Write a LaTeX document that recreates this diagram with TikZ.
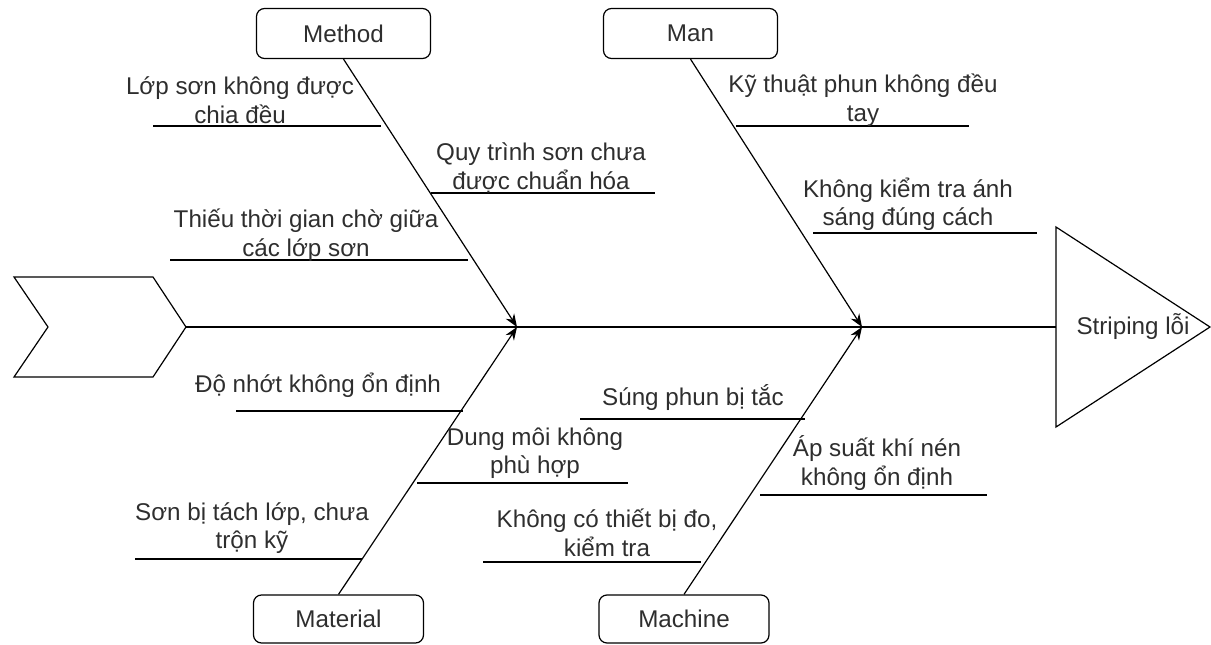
\documentclass[tikz,border=0pt]{standalone}
\usepackage{fontspec}
\setmainfont{Liberation Sans}
\usetikzlibrary{arrows.meta}
\definecolor{ink}{HTML}{2E2E2E}
\begin{document}
\begin{tikzpicture}[x=1pt,y=-1pt,
  every node/.style={font=\fontsize{24.2}{28.5}\selectfont, text=ink},
  catbox/.style={draw=black, line width=1.2pt, rounded corners=8pt,
    minimum width=174pt, minimum height=50pt, inner sep=0pt},
  bone/.style={line width=1.2pt, -{Stealth[length=13pt,width=10pt]}},
  rib/.style={line width=1.2pt},
  cause/.style={align=center, inner sep=0pt}]
\useasboundingbox (0,0) rectangle (1211,645);

% head (effect) and tail of the fish
\draw[line width=1.2pt] (14,277) -- (153,277) -- (186,327) -- (153,377) -- (14,377) -- (48,327) -- cycle;
\coordinate (tail) at (186,327);
\draw[line width=1.2pt] (1056,227) -- (1210,327) -- (1056,427) -- cycle;
\coordinate (headbase) at (1056,327);
\node (effect) at (1133,327) {Striping lỗi};

% spine
\draw[line width=1.2pt] (tail) -- (headbase);
\coordinate (j1) at (517,327);
\coordinate (j2) at (862,327);

% category boxes
\node[catbox] (method)   at (343.5,33.5) {Method};
\node[catbox] (man)      at (690.5,33.5) {Man};
\node[catbox, minimum width=170pt, minimum height=48pt] (material) at (338.5,619) {Material};
\node[catbox, minimum width=170pt, minimum height=48pt] (machine)  at (684,619) {Machine};

% main bones
\draw[bone] (method.south) -- (j1);
\draw[bone] (material.north) -- (j1);
\draw[bone] (man.south) -- (j2);
\draw[bone] (machine.north) -- (j2);

% Method causes
\draw[rib] (153,126) -- (381,126);
\node[cause] (m1) at (240,100) {Lớp sơn không được\\chia đều};
\draw[rib] (431,193) -- (655,193);
\node[cause] (m2) at (541,168) {Quy trình sơn chưa\\được chuẩn hóa};
\draw[rib] (170,260) -- (468,260);
\node[cause] (m3) at (306,235) {Thiếu thời gian chờ giữa\\các lớp sơn};

% Man causes
\draw[rib] (736,126) -- (969,126);
\node[cause] (n1) at (863,100) {Kỹ thuật phun không đều\\tay};
\draw[rib] (813,233) -- (1037,233);
\node[cause] (n2) at (908,204) {Không kiểm tra ánh\\sáng đúng cách};

% Material causes
\draw[rib] (236,411) -- (463,411);
\node[cause] (t1) at (318,385) {Độ nhớt không ổn định};
\draw[rib] (417,483) -- (628,483);
\node[cause] (t2) at (535,453) {Dung môi không\\phù hợp};
\draw[rib] (135,559) -- (362,559);
\node[cause] (t3) at (252,528) {Sơn bị tách lớp, chưa\\trộn kỹ};

% Machine causes
\draw[rib] (580,419) -- (805,419);
\node[cause] (c1) at (693,398) {Súng phun bị tắc};
\draw[rib] (760,495) -- (987,495);
\node[cause] (c2) at (877,463) {Áp suất khí nén\\không ổn định};
\draw[rib] (483,562) -- (701,562);
\node[cause] (c3) at (607,533) {Không có thiết bị đo,\\kiểm tra};
\end{tikzpicture}
\end{document}
